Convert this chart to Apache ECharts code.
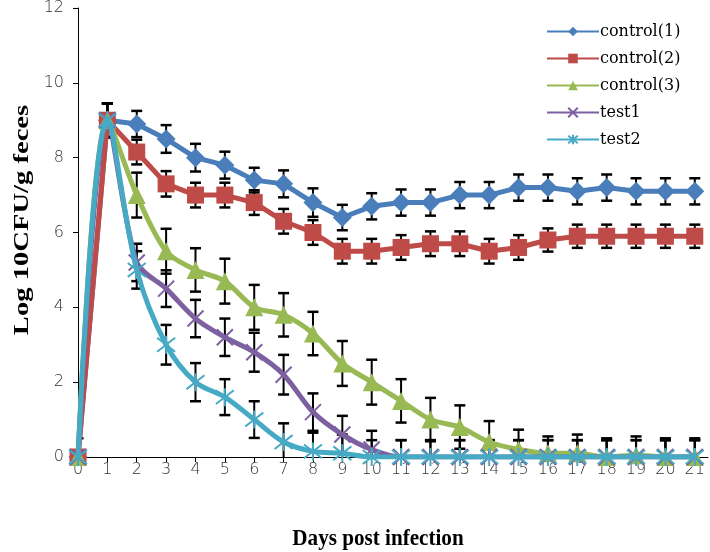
<!DOCTYPE html>
<html>
<head>
<meta charset="utf-8">
<script src="https://cdn.jsdelivr.net/npm/echarts@6/dist/echarts.min.js"></script>
<style>html,body{margin:0;padding:0;background:#fff;}#chart{width:710px;height:552px;}</style>
</head>
<body>
<div id="chart"></div>
<script>
var days = [0,1,2,3,4,5,6,7,8,9,10,11,12,13,14,15,16,17,18,19,20,21];
var seriesNames = ['control(1)','control(2)','control(3)','test1','test2'];
var control1 = [0,9.0,8.9,8.5,8.0,7.8,7.4,7.3,6.8,6.4,6.7,6.8,6.8,7.0,7.0,7.2,7.2,7.1,7.2,7.1,7.1,7.1];
var control1Err = [0.5,0.45,0.35,0.37,0.37,0.36,0.33,0.36,0.38,0.34,0.35,0.35,0.35,0.35,0.35,0.35,0.35,0.35,0.35,0.35,0.35,0.35];
var control2 = [0,9.0,8.15,7.3,7.0,7.0,6.8,6.3,6.0,5.5,5.5,5.6,5.7,5.7,5.5,5.6,5.8,5.9,5.9,5.9,5.9,5.9];
var control2Err = [0,0.45,0.33,0.34,0.33,0.33,0.33,0.33,0.33,0.33,0.33,0.33,0.33,0.33,0.33,0.33,0.31,0.31,0.31,0.31,0.31,0.31];
var control3 = [0,9.0,7.0,5.5,5.0,4.7,4.0,3.8,3.3,2.5,2.0,1.5,1.0,0.8,0.4,0.2,0.1,0.1,0,0.05,0,0];
var control3Err = [0,0.45,0.6,0.6,0.58,0.6,0.6,0.58,0.58,0.6,0.6,0.58,0.58,0.58,0.56,0.53,0.45,0.5,0.5,0.5,0.5,0.5];
var test1 = [0,9.0,5.2,4.5,3.7,3.2,2.8,2.2,1.2,0.6,0.2,0,0,0,0,0,0,0,0,0,0,0];
var test1Err = [0,0.45,0.5,0.49,0.5,0.5,0.52,0.53,0.5,0.5,0.5,0.45,0.45,0.45,0.45,0.45,0.45,0.45,0.45,0.45,0.45,0.45];
var test2 = [0,9.0,5.0,3.0,2.0,1.6,1.0,0.4,0.15,0.1,0,0,0,0,0,0,0,0,0,0,0,0];
var test2Err = [0,0.45,0.5,0.53,0.51,0.48,0.49,0.5,0.5,0.5,0.45,0.45,0.45,0.45,0.45,0.45,0.45,0.45,0.45,0.45,0.45,0.45];
var yTicks = [0,2,4,6,8,10,12];

var colors = ['#4A7EBB','#BE4B48','#98B954','#7D60A0','#46AAC5'];
var symbols = [
  'diamond',
  'rect',
  'triangle',
  'path://M0,0L10,10M10,0L0,10',
  'path://M0,0L10,10M10,0L0,10M5,-1.5L5,11.5'
];
var symbolSizes = [19, 17, 18, 16, 18];
var smooths = [false, false, 0.3, 0.3, 0.35];
var values = [control1, control2, control3, test1, test2];
var errs = [control1Err, control2Err, control3Err, test1Err, test2Err];

var series = [];
values.forEach(function (vals, i) {
  var stroke = i >= 3;
  series.push({
    name: seriesNames[i],
    type: 'line',
    data: days.map(function (d, k) { return [d, vals[k]]; }),
    symbol: symbols[i],
    symbolSize: symbolSizes[i],
    smooth: smooths[i],
    showAllSymbol: true,
    z: 3 + i,
    lineStyle: { color: colors[i], width: 5 },
    itemStyle: stroke ? { color: colors[i], borderColor: colors[i], borderWidth: 2 } : { color: colors[i], borderWidth: 0 },
    emphasis: { disabled: true },
    animation: false
  });
});
values.forEach(function (vals, i) {
  series.push({
    type: 'custom',
    clip: true,
    z: 2,
    animation: false,
    silent: true,
    data: days.map(function (d, k) { return [d, vals[k], errs[i][k]]; }),
    encode: { x: 0, y: 1 },
    renderItem: function (params, api) {
      var x = api.value(0), v = api.value(1), e = api.value(2);
      if (!e) return null;
      var top = api.coord([x, v + e]);
      var bot = api.coord([x, v - e]);
      var hw = 5.5;
      var st = { stroke: '#000', lineWidth: 2 };
      var cs = { stroke: '#000', lineWidth: 2.5 };
      return {
        type: 'group',
        children: [
          { type: 'line', shape: { x1: top[0], y1: top[1], x2: bot[0], y2: bot[1] }, style: st },
          { type: 'line', shape: { x1: top[0] - hw, y1: top[1], x2: top[0] + hw, y2: top[1] }, style: cs },
          { type: 'line', shape: { x1: bot[0] - hw, y1: bot[1], x2: bot[0] + hw, y2: bot[1] }, style: cs }
        ]
      };
    }
  });
});

var chart = echarts.init(document.getElementById('chart'), null, { renderer: 'canvas' });
chart.setOption({
  animation: false,
  backgroundColor: '#fff',
  grid: { left: 78, right: 2, top: 7, bottom: 95, containLabel: false },
  legend: {
    data: seriesNames,
    orient: 'vertical',
    left: 541,
    top: 18,
    itemWidth: 52,
    itemHeight: 12,
    itemGap: 10,
    textStyle: { fontFamily: 'DejaVu Serif', fontSize: 16, color: '#000', lineHeight: 17, padding: [0, 0, 0, -4] }
  },
  xAxis: {
    type: 'value',
    min: 0,
    max: 21.45,
    interval: 1,
    splitLine: { show: false },
    axisLine: { lineStyle: { color: '#000', width: 1 } },
    axisTick: { customValues: days, length: 5, lineStyle: { color: '#000' } },
    axisLabel: { customValues: days, margin: 5, fontFamily: 'DejaVu Sans', fontWeight: 200, fontSize: 16, color: '#333' }
  },
  yAxis: {
    type: 'value',
    min: 0,
    max: 12,
    interval: 2,
    splitLine: { show: false },
    axisLine: { show: true, lineStyle: { color: '#000', width: 1 } },
    axisTick: { show: true, length: 5, lineStyle: { color: '#000' } },
    axisLabel: { customValues: yTicks, margin: 14, fontFamily: 'DejaVu Sans', fontWeight: 200, fontSize: 16, color: '#333' }
  },
  graphic: [
    { type: 'text', x: 22, y: 220, rotation: Math.PI / 2, scaleX: 1.3, silent: true,
      style: { text: 'Log 10CFU/g feces', font: 'bold 22px "Liberation Serif"', fill: '#000', align: 'center', verticalAlign: 'middle' } },
    { type: 'text', x: 378, y: 539, scaleX: 0.88, silent: true,
      style: { text: 'Days post infection', font: 'bold 24px "Liberation Serif"', fill: '#000', align: 'center', verticalAlign: 'middle' } }
  ],
  series: series
});
</script>
</body>
</html>
